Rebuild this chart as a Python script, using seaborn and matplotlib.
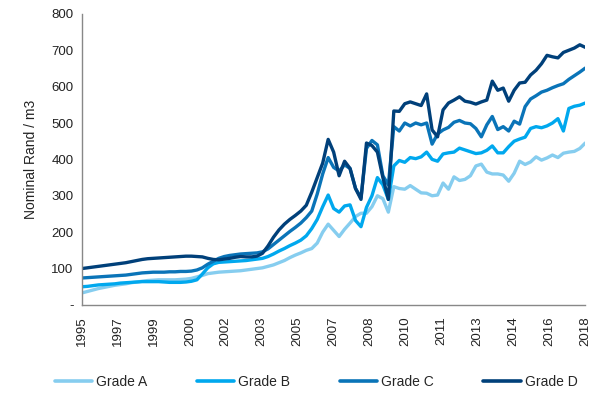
import numpy as np
import pandas as pd
import matplotlib
matplotlib.use("Agg")
import matplotlib.pyplot as plt
import seaborn as sns
from matplotlib.lines import Line2D

# Quarterly observations (index 0 = start of 1995, last = 2018)
grade_a = [33, 37, 41, 45, 48, 51, 54, 56, 58, 61, 63, 65, 67, 68, 69, 69, 69, 69, 70, 71,
           73, 77, 81, 86, 88, 90, 91, 92, 93, 94, 96, 98, 100, 102, 106, 110, 116, 122, 130, 137,
           143, 150, 155, 170, 200, 222, 205, 188, 208, 225, 243, 252, 252, 270, 300, 292, 255, 325, 320, 318,
           328, 318, 308, 307, 300, 302, 335, 318, 352, 342, 345, 355, 382, 387, 365, 360, 360, 357, 340, 362,
           395, 386, 393, 407, 398, 404, 412, 405, 417, 420, 422, 430, 445]
grade_b = [50, 51, 53, 55, 56, 57, 58, 60, 61, 62, 63, 64, 64, 64, 64, 63, 62, 62, 62, 63,
           65, 69, 85, 102, 113, 117, 118, 119, 120, 121, 122, 124, 126, 128, 133, 140, 148, 155, 163, 170,
           178, 190, 210, 235, 270, 302, 265, 255, 272, 275, 232, 215, 268, 300, 350, 330, 290, 382, 397, 392,
           405, 402, 407, 420, 400, 395, 415, 418, 420, 431, 426, 421, 416, 418, 425, 437, 418, 418, 435, 450,
           456, 461, 485, 490, 487, 492, 500, 512, 478, 540, 546, 549, 555]
grade_c = [74, 75, 76, 77, 78, 79, 80, 81, 82, 84, 86, 88, 89, 90, 90, 90, 91, 91, 92, 92,
           93, 96, 102, 112, 120, 128, 133, 136, 138, 140, 141, 142, 143, 146, 154, 166, 178, 190, 202, 213,
           225, 240, 258, 305, 360, 405, 378, 368, 385, 375, 320, 295, 430, 452, 440, 355, 330, 490, 478, 500,
           492, 500, 495, 500, 442, 470, 481, 488, 502, 507, 500, 498, 485, 462, 495, 518, 482, 490, 478, 505,
           497, 545, 566, 575, 585, 590, 597, 603, 608, 620, 630, 640, 651]
grade_d = [100, 102, 104, 106, 108, 110, 112, 114, 116, 119, 122, 125, 127, 128, 129, 130, 131, 132, 133, 134,
           134, 133, 132, 128, 125, 124, 126, 128, 131, 133, 132, 132, 134, 142, 162, 186, 206, 222, 235, 246,
           258, 274, 310, 350, 390, 455, 420, 355, 395, 375, 320, 290, 445, 438, 420, 350, 290, 533, 532, 553,
           558, 553, 548, 580, 481, 462, 536, 555, 563, 572, 560, 557, 552, 558, 563, 615, 590, 596, 560, 590,
           610, 612, 632, 645, 663, 686, 682, 679, 694, 700, 706, 715, 708]

series_names = ["Grade A", "Grade B", "Grade C", "Grade D"]
year_labels = ["1995", "1997", "1999", "2000", "2002", "2003", "2005", "2007",
               "2008", "2010", "2011", "2013", "2014", "2016", "2018"]
y_ticks = [0, 100, 200, 300, 400, 500, 600, 700, 800]
y_tick_labels = ["-", "100", "200", "300", "400", "500", "600", "700", "800"]

colors = ["#86CDEF", "#00A8EE", "#0A74B8", "#00407A"]

n = len(grade_a)
df = pd.DataFrame({
    "period": np.tile(np.arange(n), 4),
    "value": grade_a + grade_b + grade_c + grade_d,
    "grade": np.repeat(series_names, n),
})

sns.set_theme(style="white")
plt.rcParams["font.family"] = ["Liberation Sans", "DejaVu Sans"]

fig = plt.figure(figsize=(5.9, 3.96), dpi=100)
ax = fig.add_axes([0.139, 0.230, 0.853, 0.735])

sns.lineplot(data=df, x="period", y="value", hue="grade", palette=colors,
             linewidth=2.4, ax=ax, legend=False)

ax.set_xlim(0, n - 1)
ax.set_ylim(0, 800)
ax.set_yticks(y_ticks)
ax.set_yticklabels(y_tick_labels, fontsize=9.5, color="#222222")
ax.set_xticks(np.linspace(0, n - 1, len(year_labels)))
ax.set_xticklabels(year_labels, rotation=90, fontsize=9.5, color="#222222")
ax.tick_params(axis="y", length=0, pad=6)
ax.tick_params(axis="x", length=0, pad=8)
ax.set_xlabel("")
ax.set_ylabel("Nominal Rand / m3", fontsize=10, color="#222222", labelpad=10)

for side in ["top", "right"]:
    ax.spines[side].set_visible(False)
for side in ["left", "bottom"]:
    ax.spines[side].set_color("#888888")
    ax.spines[side].set_linewidth(1.0)

handles = [Line2D([0], [0], color=c, lw=2.6) for c in colors]
fig.legend(handles, series_names, loc="center", bbox_to_anchor=(0.536, 0.036),
           ncol=4, frameon=False, handlelength=2.7,
           columnspacing=3.55, handletextpad=0.3,
           prop={"family": ["Liberation Sans Narrow", "Liberation Sans"], "size": 10})

fig.savefig("out.png", dpi=100)
